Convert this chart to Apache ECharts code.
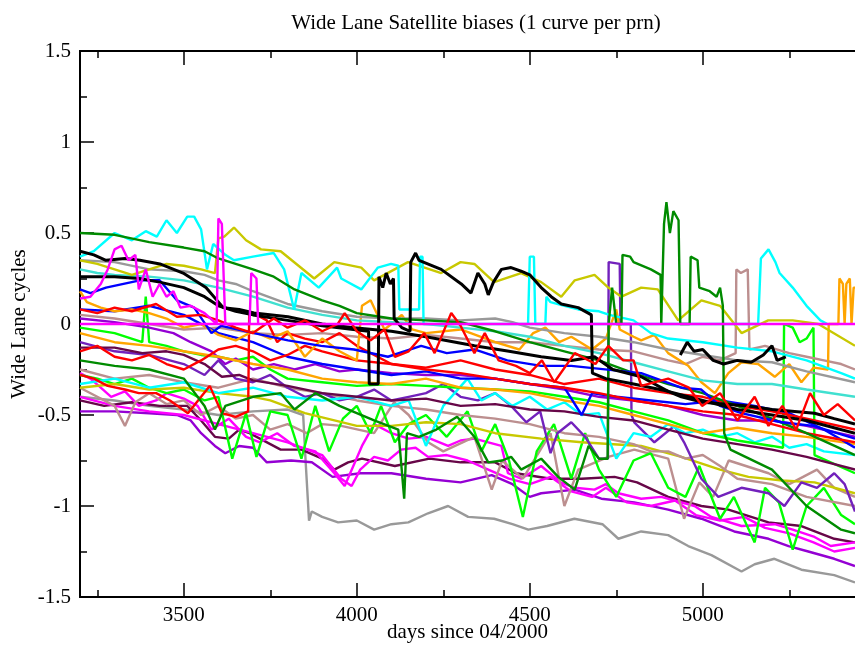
<!DOCTYPE html>
<html>
<head>
<meta charset="UTF-8">
<script src="https://cdn.jsdelivr.net/npm/echarts@6/dist/echarts.min.js"></script>
<style>
    html, body { margin: 0; padding: 0; background: #fff; }
    #chart { width: 855px; height: 646px; }
</style>
</head>
<body>
<div id="chart"></div>
<script type="text/javascript">
    // axis ranges and ticks
    const xMin = 3200, xMax = 5440;
    const xMajor = [3500, 4000, 4500, 5000];
    const xMinor = [3250, 3750, 4250, 4750, 5250];

    // one array per satellite, [day, cycles]
    const greyLow = [[3200,-0.4],[3300,-0.42],[3400,-0.45],[3500,-0.47],[3600,-0.5],[3700,-0.48],[3800,-0.47],[3845,-0.5],[3852,-0.75],[3862,-1.08],[3870,-1.03],[3900,-1.06],[3946,-1.09],[4000,-1.08],[4050,-1.13],[4100,-1.1],[4149,-1.09],[4206,-1.04],[4264,-1.0],[4322,-1.06],[4397,-1.07],[4450,-1.1],[4496,-1.13],[4550,-1.11],[4629,-1.07],[4710,-1.1],[4756,-1.18],[4822,-1.14],[4900,-1.16],[4958,-1.22],[5025,-1.27],[5112,-1.36],[5150,-1.32],[5207,-1.29],[5285,-1.35],[5380,-1.38],[5440,-1.42]];
    const violetLow = [[3200,-0.48],[3300,-0.48],[3400,-0.49],[3480,-0.5],[3520,-0.53],[3550,-0.6],[3590,-0.67],[3620,-0.71],[3660,-0.67],[3700,-0.68],[3740,-0.76],[3810,-0.75],[3870,-0.76],[3930,-0.84],[4010,-0.82],[4100,-0.82],[4200,-0.85],[4300,-0.87],[4390,-0.83],[4450,-0.88],[4500,-0.95],[4533,-0.93],[4630,-0.91],[4707,-0.96],[4802,-0.98],[4900,-1.02],[4996,-1.07],[5091,-1.14],[5190,-1.18],[5248,-1.22],[5305,-1.25],[5380,-1.29],[5440,-1.33]];
    const maroonLow = [[3200,-0.42],[3270,-0.45],[3350,-0.43],[3430,-0.45],[3510,-0.45],[3550,-0.53],[3590,-0.62],[3630,-0.63],[3660,-0.58],[3690,-0.6],[3720,-0.63],[3780,-0.69],[3840,-0.69],[3900,-0.74],[3935,-0.8],[3975,-0.76],[4015,-0.74],[4110,-0.78],[4210,-0.74],[4300,-0.76],[4400,-0.76],[4460,-0.82],[4560,-0.85],[4650,-0.85],[4745,-0.84],[4810,-0.87],[4900,-0.95],[4996,-1.0],[5074,-1.02],[5190,-1.09],[5285,-1.11],[5380,-1.18],[5440,-1.2]];
    const magentaLow = [[3200,-0.4],[3300,-0.45],[3400,-0.48],[3500,-0.5],[3600,-0.55],[3700,-0.6],[3800,-0.65],[3900,-0.72],[3955,-0.85],[3985,-0.89],[4010,-0.8],[4050,-0.73],[4090,-0.75],[4128,-0.69],[4170,-0.68],[4206,-0.73],[4260,-0.72],[4320,-0.75],[4380,-0.8],[4440,-0.85],[4500,-0.88],[4560,-0.84],[4620,-0.92],[4680,-0.95],[4720,-0.9],[4780,-0.98],[4850,-1.0],[4920,-0.97],[4980,-1.05],[5050,-1.08],[5120,-1.06],[5180,-1.12],[5250,-1.15],[5320,-1.2],[5380,-1.25],[5440,-1.23]];
    const magentaMid = [[3200,-0.27],[3230,-0.3],[3260,-0.35],[3290,-0.4],[3330,-0.37],[3370,-0.45],[3420,-0.42],[3450,-0.38],[3500,-0.41],[3540,-0.45],[3580,-0.58],[3630,-0.52],[3680,-0.62],[3720,-0.65],[3770,-0.6],[3820,-0.67],[3880,-0.7],[3935,-0.82],[3965,-0.89],[3990,-0.78],[4015,-0.67],[4050,-0.55],[4100,-0.6],[4150,-0.63],[4200,-0.62],[4264,-0.67],[4300,-0.64],[4340,-0.63],[4418,-0.67],[4437,-0.82],[4475,-0.85],[4533,-0.78],[4590,-0.87],[4630,-0.9],[4687,-0.91],[4720,-0.88],[4756,-0.93],[4822,-0.96],[4880,-0.95],[4976,-1.0],[5025,-1.06],[5112,-1.11],[5208,-1.1],[5260,-1.13],[5323,-1.17],[5370,-1.22],[5440,-1.2]];
    const brownLow = [[3200,-0.35],[3250,-0.4],[3300,-0.45],[3330,-0.56],[3360,-0.43],[3400,-0.38],[3450,-0.44],[3500,-0.42],[3550,-0.5],[3600,-0.45],[3650,-0.52],[3700,-0.5],[3750,-0.58],[3800,-0.55],[3855,-0.6],[3900,-0.55],[3955,-0.56],[4050,-0.6],[4108,-0.43],[4150,-0.5],[4206,-0.65],[4250,-0.7],[4340,-0.62],[4390,-0.91],[4420,-0.75],[4480,-0.85],[4560,-0.6],[4600,-1.0],[4640,-0.8],[4727,-0.73],[4802,-0.69],[4900,-0.74],[4946,-1.07],[4990,-0.87],[5030,-0.95],[5075,-0.75],[5190,-0.82],[5250,-0.88],[5330,-0.8],[5380,-0.9],[5440,-0.95]];
    const greenWave = [[3200,-0.28],[3250,-0.3],[3300,-0.33],[3350,-0.3],[3400,-0.35],[3450,-0.38],[3500,-0.36],[3560,-0.42],[3600,-0.4],[3640,-0.74],[3680,-0.49],[3710,-0.73],[3750,-0.48],[3800,-0.5],[3840,-0.74],[3880,-0.45],[3920,-0.7],[3960,-0.52],[4000,-0.45],[4040,-0.6],[4070,-0.45],[4110,-0.65],[4150,-0.55],[4200,-0.5],[4260,-0.62],[4320,-0.48],[4360,-0.7],[4400,-0.55],[4440,-0.75],[4480,-1.06],[4520,-0.7],[4570,-0.55],[4620,-0.85],[4660,-0.6],[4700,-0.8],[4750,-0.95],[4800,-0.75],[4850,-0.71],[4900,-0.9],[4950,-0.95],[4990,-0.78],[5050,-1.07],[5090,-0.95],[5150,-1.2],[5180,-0.9],[5220,-0.98],[5260,-1.24],[5300,-1.0],[5350,-0.9],[5400,-1.05],[5440,-1.1]];
    const yellowLow = [[3200,-0.35],[3300,-0.33],[3400,-0.36],[3500,-0.35],[3600,-0.38],[3700,-0.4],[3750,-0.42],[3850,-0.49],[4000,-0.56],[4100,-0.56],[4200,-0.54],[4300,-0.55],[4400,-0.6],[4533,-0.63],[4650,-0.65],[4822,-0.67],[4938,-0.73],[5050,-0.8],[5132,-0.84],[5230,-0.86],[5323,-0.87],[5440,-0.93]];
    const brownMid = [[3200,-0.25],[3300,-0.3],[3400,-0.28],[3500,-0.32],[3600,-0.35],[3700,-0.3],[3800,-0.35],[3900,-0.38],[4000,-0.42],[4100,-0.45],[4200,-0.47],[4300,-0.5],[4400,-0.52],[4500,-0.55],[4600,-0.6],[4700,-0.62],[4800,-0.66],[4850,-0.7],[4900,-0.7],[4950,-0.74],[5000,-0.72],[5050,-0.78],[5100,-0.85],[5200,-0.88],[5300,-0.95],[5440,-1.0]];
    const indigoWave = [[3200,-0.1],[3300,-0.15],[3400,-0.17],[3500,-0.22],[3560,-0.28],[3600,-0.2],[3650,-0.3],[3700,-0.32],[3750,-0.28],[3800,-0.35],[3850,-0.4],[3900,-0.38],[3950,-0.42],[4000,-0.4],[4050,-0.36],[4100,-0.42],[4150,-0.4],[4200,-0.38],[4250,-0.33],[4300,-0.4],[4350,-0.42],[4400,-0.38],[4446,-0.45],[4490,-0.54],[4530,-0.48],[4560,-0.71],[4580,-0.6],[4620,-0.54],[4660,-0.62],[4700,-0.74],[4726,-0.74],[4728,0.34],[4760,0.33],[4762,0.0],[4792,0.0],[4794,-0.5],[4802,-0.54],[4860,-0.65],[4918,-0.56],[4946,-0.65],[4996,-0.85],[5045,-0.95],[5112,-0.9],[5190,-0.93],[5236,-1.0],[5285,-0.87],[5330,-0.9],[5380,-0.82],[5410,-0.88],[5440,-1.03]];
    const cyanLow = [[3200,-0.33],[3300,-0.3],[3400,-0.35],[3500,-0.32],[3600,-0.38],[3700,-0.35],[3800,-0.4],[3900,-0.42],[4000,-0.4],[4100,-0.45],[4150,-0.42],[4200,-0.67],[4250,-0.45],[4320,-0.3],[4360,-0.42],[4400,-0.38],[4450,-0.45],[4500,-0.4],[4550,-0.47],[4600,-0.43],[4650,-0.5],[4700,-0.49],[4750,-0.74],[4800,-0.6],[4850,-0.62],[4900,-0.55],[4950,-0.6],[5000,-0.58],[5050,-0.62],[5100,-0.6],[5150,-0.65],[5200,-0.62],[5250,-0.68],[5300,-0.66],[5350,-0.7],[5440,-0.72]];
    const greenMid = [[3200,-0.02],[3300,-0.05],[3380,-0.1],[3390,0.15],[3400,-0.1],[3450,-0.12],[3500,-0.15],[3550,-0.17],[3600,-0.18],[3650,-0.2],[3700,-0.18],[3750,-0.25],[3800,-0.3],[3900,-0.32],[4000,-0.34],[4100,-0.33],[4200,-0.34],[4300,-0.35],[4400,-0.36],[4500,-0.37],[4600,-0.4],[4700,-0.43],[4800,-0.48],[4900,-0.53],[5000,-0.6],[5100,-0.64],[5200,-0.67],[5232,-0.68],[5235,0.0],[5260,-0.02],[5280,-0.1],[5300,-0.08],[5320,-0.02],[5323,-0.72],[5440,-0.82]];
    const maroonMid = [[3200,-0.13],[3300,-0.13],[3380,-0.16],[3450,-0.15],[3500,-0.17],[3560,-0.22],[3610,-0.29],[3660,-0.28],[3700,-0.31],[3800,-0.34],[3900,-0.38],[4000,-0.4],[4100,-0.42],[4200,-0.41],[4300,-0.45],[4400,-0.44],[4500,-0.47],[4600,-0.48],[4700,-0.51],[4800,-0.53],[4900,-0.58],[5000,-0.63],[5100,-0.66],[5200,-0.69],[5300,-0.73],[5440,-0.8]];
    const violetMid = [[3200,0.03],[3300,0.01],[3400,-0.02],[3470,-0.05],[3520,-0.1],[3580,-0.15],[3620,-0.22],[3650,-0.19],[3700,-0.25],[3760,-0.22],[3820,-0.25],[3880,-0.22],[3950,-0.26],[4000,-0.25],[4100,-0.27],[4200,-0.28],[4300,-0.28],[4400,-0.3],[4500,-0.33],[4600,-0.36],[4700,-0.4],[4800,-0.42],[4900,-0.45],[5000,-0.5],[5100,-0.53],[5200,-0.53],[5300,-0.56],[5440,-0.62]];
    const orangeLow = [[3200,-0.05],[3300,-0.1],[3400,-0.12],[3500,-0.15],[3600,-0.18],[3700,-0.22],[3800,-0.25],[3900,-0.3],[4000,-0.32],[4100,-0.33],[4200,-0.3],[4300,-0.35],[4400,-0.36],[4500,-0.38],[4600,-0.42],[4700,-0.45],[4800,-0.5],[4900,-0.55],[5000,-0.6],[5100,-0.57],[5200,-0.6],[5300,-0.62],[5440,-0.66]];
    const brownSpike = [[3200,0.05],[3300,0.03],[3400,0.0],[3500,-0.03],[3600,-0.02],[3700,-0.05],[3800,-0.06],[3900,-0.05],[4000,-0.07],[4100,-0.08],[4200,-0.06],[4300,-0.08],[4400,-0.1],[4500,-0.1],[4600,-0.12],[4700,-0.14],[4800,-0.15],[4900,-0.2],[4950,-0.22],[5000,-0.18],[5050,-0.2],[5095,-0.16],[5097,0.3],[5110,0.28],[5130,0.3],[5135,-0.14],[5180,-0.12],[5250,-0.16],[5300,-0.18],[5350,-0.2],[5400,-0.22],[5440,-0.25]];
    const blueLow = [[3200,0.08],[3300,0.07],[3400,0.1],[3500,0.05],[3600,-0.05],[3700,-0.1],[3800,-0.18],[3900,-0.22],[4000,-0.25],[4100,-0.28],[4200,-0.26],[4300,-0.3],[4400,-0.3],[4500,-0.33],[4600,-0.35],[4650,-0.5],[4680,-0.38],[4750,-0.4],[4850,-0.42],[4950,-0.44],[5050,-0.42],[5150,-0.45],[5250,-0.49],[5350,-0.58],[5440,-0.68]];
    const redLow = [[3200,-0.28],[3240,-0.3],[3280,-0.34],[3330,-0.36],[3370,-0.38],[3420,-0.38],[3460,-0.42],[3512,-0.49],[3550,-0.4],[3575,-0.34],[3610,-0.49],[3650,-0.51],[3686,-0.48],[3689,0.05],[3710,0.05],[3740,0.02],[3770,-0.1],[3800,-0.05],[3850,-0.08],[3900,-0.1],[3950,-0.05],[4000,-0.12],[4100,-0.22],[4200,-0.24],[4300,-0.2],[4400,-0.25],[4500,-0.28],[4600,-0.33],[4700,-0.3],[4800,-0.35],[4900,-0.38],[5000,-0.4],[5100,-0.45],[5200,-0.48],[5300,-0.52],[5440,-0.58]];
    const redMid = [[3200,-0.15],[3250,-0.12],[3300,-0.18],[3350,-0.2],[3400,-0.17],[3450,-0.22],[3500,-0.25],[3550,-0.2],[3600,-0.14],[3650,-0.12],[3700,-0.15],[3750,-0.2],[3800,-0.17],[3850,-0.12],[3900,-0.15],[4000,-0.2],[4100,-0.22],[4200,-0.25],[4300,-0.27],[4400,-0.3],[4500,-0.33],[4600,-0.35],[4700,-0.38],[4800,-0.42],[4900,-0.45],[5000,-0.48],[5100,-0.5],[5200,-0.55],[5300,-0.6],[5440,-0.65]];
    const orangeTop = [[3200,0.18],[3220,0.12],[3260,0.09],[3300,0.07],[3350,0.08],[3400,0.06],[3450,0.03],[3500,-0.02],[3550,0.0],[3600,-0.06],[3650,-0.09],[3700,-0.04],[3750,-0.08],[3800,-0.04],[3850,-0.18],[3900,-0.08],[3950,-0.15],[4000,-0.2],[4015,0.1],[4040,0.13],[4060,0.05],[4080,-0.03],[4100,0.0],[4130,0.05],[4160,-0.03],[4200,-0.05],[4300,-0.03],[4400,-0.1],[4470,-0.14],[4510,-0.05],[4545,-0.02],[4585,-0.1],[4620,-0.07],[4680,-0.14],[4720,-0.08],[4750,0.08],[4760,-0.03],[4800,-0.07],[4822,-0.09],[4860,-0.06],[4900,-0.16],[4958,-0.23],[4996,-0.32],[5035,-0.38],[5074,-0.27],[5112,-0.21],[5160,-0.22],[5208,-0.29],[5250,-0.22],[5285,-0.32],[5320,-0.24],[5362,-0.25],[5364,0.0],[5392,0.0],[5395,0.25],[5405,0.22],[5410,0.0],[5415,0.22],[5425,0.25],[5430,0.0],[5436,0.2],[5440,0.2]];
    const turquoise = [[3200,0.3],[3250,0.28],[3300,0.27],[3400,0.26],[3500,0.24],[3600,0.2],[3700,0.15],[3800,0.09],[3900,0.05],[4000,0.02],[4100,0.01],[4200,0.0],[4300,-0.02],[4400,-0.04],[4500,-0.07],[4600,-0.12],[4700,-0.16],[4800,-0.21],[4900,-0.26],[5000,-0.31],[5100,-0.33],[5200,-0.33],[5300,-0.36],[5440,-0.4]];
    const greyTop = [[3200,0.35],[3300,0.34],[3400,0.3],[3500,0.29],[3560,0.27],[3600,0.24],[3650,0.22],[3700,0.18],[3800,0.11],[3900,0.07],[4000,0.04],[4100,0.03],[4200,0.03],[4300,0.02],[4400,0.03],[4450,0.01],[4500,-0.02],[4600,-0.05],[4700,-0.07],[4800,-0.1],[4900,-0.14],[5000,-0.17],[5100,-0.2],[5200,-0.21],[5300,-0.26],[5440,-0.32]];
    const yellowTop = [[3200,0.35],[3250,0.33],[3300,0.3],[3350,0.27],[3400,0.3],[3450,0.33],[3500,0.32],[3550,0.3],[3590,0.28],[3600,0.47],[3617,0.48],[3645,0.53],[3680,0.46],[3723,0.41],[3780,0.4],[3877,0.25],[3935,0.34],[4013,0.31],[4050,0.24],[4148,0.34],[4244,0.28],[4300,0.34],[4340,0.33],[4397,0.23],[4475,0.28],[4533,0.23],[4591,0.15],[4630,0.24],[4687,0.27],[4727,0.2],[4765,0.15],[4822,0.2],[4870,0.19],[4929,0.02],[4996,0.13],[5050,0.1],[5112,-0.05],[5189,0.02],[5260,0.02],[5334,0.0],[5440,-0.12]];
    const cyanTop = [[3200,0.37],[3240,0.4],[3300,0.5],[3350,0.46],[3390,0.51],[3422,0.48],[3450,0.57],[3480,0.5],[3510,0.59],[3530,0.59],[3550,0.52],[3567,0.3],[3585,0.44],[3620,0.38],[3645,0.35],[3700,0.37],[3760,0.39],[3790,0.3],[3819,0.08],[3840,0.28],[3890,0.2],[3943,0.31],[3955,0.25],[4013,0.19],[4061,0.31],[4099,0.33],[4120,0.32],[4123,0.08],[4180,0.08],[4183,0.37],[4190,0.37],[4193,0.0],[4545,0.0],[4548,0.15],[4560,0.12],[4600,0.1],[4640,0.08],[4700,0.07],[4730,0.05],[4800,0.02],[4850,-0.05],[4900,-0.08],[5000,-0.1],[5100,-0.13],[5200,-0.15],[5300,-0.2],[5400,-0.27],[5440,-0.3]];
    const cyanSpikes = [[4495,0.0],[4500,0.37],[4512,0.37],[4516,0.0],[5160,0.0],[5168,0.36],[5190,0.41],[5210,0.34],[5222,0.28],[5260,0.2],[5300,0.1],[5340,0.02],[5360,0.0]];
    const greenDarkLow = [[3200,-0.2],[3300,-0.23],[3400,-0.25],[3500,-0.3],[3560,-0.45],[3590,-0.58],[3620,-0.45],[3700,-0.4],[3780,-0.38],[3820,-0.47],[3880,-0.38],[3950,-0.45],[4000,-0.49],[4050,-0.53],[4120,-0.58],[4137,-0.96],[4145,-0.6],[4180,-0.62],[4230,-0.58],[4290,-0.51],[4340,-0.62],[4380,-0.76],[4420,-0.75],[4446,-0.73],[4475,-0.8],[4533,-0.74],[4582,-0.84],[4630,-0.91],[4670,-0.67],[4700,-0.74],[4725,-0.74],[4728,0.0],[4738,0.2],[4750,0.0],[4765,0.0],[4768,0.38],[4790,0.37],[4800,0.34],[4850,0.3],[4878,0.27],[4880,0.0],[4888,0.55],[4895,0.67],[4905,0.5],[4915,0.62],[4930,0.57],[4935,0.0],[4962,0.0],[4965,0.37],[4985,0.35],[4990,0.2],[5020,0.18],[5040,0.15],[5050,0.2],[5058,0.1],[5062,-0.6],[5080,-0.69],[5200,-0.8],[5300,-1.0],[5400,-1.13],[5440,-1.15]];
    const greenDarkTop = [[3200,0.5],[3300,0.49],[3400,0.45],[3500,0.42],[3560,0.4],[3600,0.36],[3650,0.33],[3700,0.3],[3760,0.26],[3820,0.19],[3900,0.13],[3950,0.1],[4000,0.06],[4100,0.03],[4200,0.02],[4300,0.01],[4400,-0.04],[4500,-0.1],[4600,-0.15],[4700,-0.2],[4800,-0.27],[4900,-0.33],[5000,-0.38],[5100,-0.45],[5200,-0.52],[5300,-0.6],[5440,-0.72]];
    const blueTop = [[3200,0.19],[3230,0.17],[3275,0.2],[3373,0.24],[3430,0.24],[3480,0.13],[3530,0.09],[3580,-0.05],[3608,-0.01],[3703,-0.05],[3801,-0.09],[3897,-0.12],[3992,-0.14],[4090,-0.18],[4186,-0.12],[4260,-0.16],[4340,-0.14],[4435,-0.2],[4533,-0.23],[4620,-0.23],[4822,-0.27],[4938,-0.35],[4995,-0.36],[5050,-0.45],[5112,-0.49],[5227,-0.54],[5320,-0.56],[5440,-0.63]];
    const blackStep = [[3200,0.26],[3300,0.26],[3372,0.25],[3430,0.23],[3500,0.2],[3560,0.15],[3600,0.1],[3650,0.07],[3700,0.05],[3800,0.02],[3900,-0.01],[3990,-0.03],[4034,-0.04],[4036,-0.33],[4062,-0.33],[4064,0.26],[4075,0.2],[4085,0.28],[4097,0.22],[4106,0.25],[4108,0.03],[4130,-0.02],[4154,-0.04],[4156,0.34],[4170,0.39],[4180,0.35],[4244,0.3],[4302,0.22],[4330,0.17],[4350,0.28],[4370,0.22],[4380,0.16],[4395,0.23],[4418,0.3],[4446,0.31],[4475,0.29],[4500,0.27],[4533,0.2],[4562,0.15],[4591,0.11],[4640,0.09],[4669,0.06],[4678,0.05],[4681,-0.27],[4720,-0.3],[4800,-0.33],[4900,-0.37],[5000,-0.42],[5100,-0.47],[5200,-0.5],[5300,-0.53],[5440,-0.6]];
    const blackShort = [[4935,-0.17],[4955,-0.1],[4975,-0.15],[5000,-0.14],[5030,-0.2],[5060,-0.22],[5100,-0.2],[5140,-0.21],[5175,-0.17],[5200,-0.12],[5215,-0.2],[5240,-0.18]];
    const blackTop = [[3200,0.4],[3240,0.38],[3275,0.35],[3330,0.36],[3373,0.35],[3431,0.33],[3498,0.28],[3564,0.2],[3614,0.09],[3660,0.08],[3703,0.06],[3801,0.04],[3900,0.0],[3992,-0.02],[4100,-0.04],[4200,-0.07],[4340,-0.12],[4440,-0.15],[4533,-0.18],[4620,-0.2],[4687,-0.18],[4740,-0.25],[4822,-0.29],[4900,-0.37],[4938,-0.4],[5000,-0.43],[5132,-0.45],[5200,-0.47],[5323,-0.49],[5380,-0.52],[5440,-0.55]];
    const redTop = [[3200,0.08],[3250,0.06],[3300,0.09],[3350,0.07],[3420,0.11],[3480,0.04],[3550,0.05],[3600,0.02],[3650,-0.02],[3700,-0.05],[3760,0.03],[3800,-0.02],[3850,0.02],[3900,-0.04],[3945,0.0],[3965,0.06],[4000,-0.04],[4040,-0.09],[4080,-0.03],[4110,-0.18],[4150,-0.15],[4195,-0.05],[4225,-0.16],[4273,0.06],[4300,-0.01],[4340,-0.16],[4370,-0.05],[4410,-0.2],[4460,-0.23],[4500,-0.27],[4535,-0.2],[4571,-0.32],[4630,-0.16],[4690,-0.22],[4727,-0.12],[4770,-0.2],[4800,-0.2],[4822,-0.34],[4900,-0.3],[4960,-0.35],[4998,-0.45],[5050,-0.38],[5100,-0.53],[5150,-0.4],[5190,-0.56],[5230,-0.45],[5270,-0.58],[5310,-0.38],[5350,-0.5],[5390,-0.44],[5440,-0.53]];
    const magentaTop = [[3200,0.14],[3230,0.15],[3260,0.22],[3280,0.3],[3300,0.41],[3320,0.43],[3340,0.35],[3360,0.38],[3370,0.19],[3390,0.3],[3410,0.15],[3430,0.22],[3450,0.15],[3470,0.18],[3490,0.09],[3520,0.1],[3560,0.06],[3595,0.0],[3600,0.58],[3610,0.55],[3620,0.0],[3690,0.0],[3695,0.28],[3710,0.25],[3715,0.0]];
    const magentaRef = [[3200,0.0],[5440,0.0]];

    // draw order: first listed is at the back
    const curves = [
        [greyLow, '#999999'], [violetLow, '#9400d3'], [maroonLow, '#670748'], [magentaLow, '#ff00ff'],
        [magentaMid, '#ff00ff'], [brownLow, '#bc8f8f'], [greenWave, '#00ff00'], [yellowLow, '#c8c800'],
        [brownMid, '#bc8f8f'], [indigoWave, '#7221bc'], [cyanLow, '#00ffff'], [greenMid, '#00ff00'],
        [maroonMid, '#670748'], [violetMid, '#9400d3'], [orangeLow, '#ffa500'], [brownSpike, '#bc8f8f'],
        [blueLow, '#0000ff'], [redLow, '#ff0000'], [redMid, '#ff0000'], [orangeTop, '#ffa500'],
        [turquoise, '#40e0d0'], [greyTop, '#999999'], [yellowTop, '#c8c800'], [cyanTop, '#00ffff'],
        [cyanSpikes, '#00ffff'], [greenDarkLow, '#008b00'], [greenDarkTop, '#008b00'], [blueTop, '#0000ff'],
        [blackStep, '#000000'], [blackShort, '#000000'], [blackTop, '#000000'], [redTop, '#ff0000'],
        [magentaTop, '#ff00ff'], [magentaRef, '#ff00ff']
    ];

    const font = 'Liberation Serif';
    const axisLineStyle = {color: '#000', width: 2};

    function xAxisPart(position, ticks, len, labels) {
        return {
            type: 'value', min: xMin, max: xMax, position: position,
            splitLine: {show: false},
            axisLine: {show: true, onZero: false, lineStyle: axisLineStyle},
            axisTick: {show: true, inside: true, length: len, customValues: ticks, lineStyle: {color: '#000', width: 1.5}},
            axisLabel: labels ? {
                customValues: ticks, color: '#000', fontFamily: font, fontSize: 21, margin: 8,
                formatter: function (v) { return String(v); }
            } : {show: false}
        };
    }

    const bottomAxis = xAxisPart('bottom', xMajor, 14, true);
    bottomAxis.name = 'days since 04/2000';
    bottomAxis.nameLocation = 'middle';
    bottomAxis.nameGap = 25;
    bottomAxis.nameMoveOverlap = false;
    bottomAxis.nameTextStyle = {color: '#000', fontFamily: font, fontSize: 21};

    const chart = echarts.init(document.getElementById('chart'), null, {renderer: 'canvas'});
    chart.setOption({
        animation: false,
        backgroundColor: '#fff',
        title: {
            text: 'Wide Lane Satellite biases (1 curve per prn)',
            left: 471, top: 8, textAlign: 'center',
            textStyle: {color: '#000', fontFamily: font, fontSize: 21, fontWeight: 'normal'}
        },
        grid: {left: 80, right: 0, top: 51, bottom: 49, containLabel: false, outerBoundsMode: 'none'},
        xAxis: [
            bottomAxis,
            xAxisPart('bottom', xMinor, 7, false),
            xAxisPart('top', xMajor, 14, false),
            xAxisPart('top', xMinor, 7, false)
        ],
        yAxis: {
            type: 'value', min: -1.5, max: 1.5, interval: 0.5,
            splitLine: {show: false},
            axisLine: {show: true, onZero: false, lineStyle: axisLineStyle},
            axisTick: {show: true, inside: true, length: 14, lineStyle: {color: '#000', width: 1.5}},
            minorTick: {show: true, splitNumber: 2, length: 7, lineStyle: {color: '#000', width: 1.5}},
            axisLabel: {color: '#000', fontFamily: font, fontSize: 21, margin: 9},
            name: 'Wide Lane cycles',
            nameLocation: 'middle',
            nameGap: 50,
            nameMoveOverlap: false,
            nameTextStyle: {color: '#000', fontFamily: font, fontSize: 21}
        },
        series: curves.map(function (c) {
            return {
                type: 'line',
                data: c[0],
                xAxisIndex: 0,
                showSymbol: false,
                symbol: 'none',
                silent: true,
                lineStyle: {color: c[1], width: c[1] === '#000000' ? 3 : 2.4}
            };
        })
    });
</script>
</body>
</html>
